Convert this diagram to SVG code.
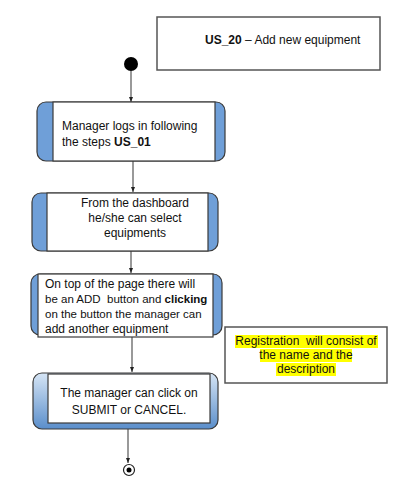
<svg xmlns="http://www.w3.org/2000/svg" width="411" height="492" viewBox="0 0 411 492">
<style>
text{font-family:"Liberation Sans",Arial,sans-serif;font-size:12px;fill:#111;white-space:pre}
.b{font-weight:bold}
.s{font-size:11.5px}
.outer{fill:#6f9fd8;stroke:#3a3a3a;stroke-width:1.2}
.inner{fill:#fff;stroke:#3a3a3a;stroke-width:1.2}
.box{fill:#fff;stroke:#555;stroke-width:1.5}
.conn{stroke:#555;stroke-width:1.2;fill:none;marker-end:url(#ah)}
.hl{fill:#ffff00}
</style>
<defs>
<marker id="ah" markerWidth="6" markerHeight="6" refX="5" refY="3" orient="auto" markerUnits="userSpaceOnUse">
<path d="M0,1 L5,3 L0,5 z" fill="#222"/>
</marker>
<linearGradient id="g4" x1="0" y1="0" x2="0" y2="1">
<stop offset="0" stop-color="#d6e5f5"/>
<stop offset="1" stop-color="#5a8ecb"/>
</linearGradient>
</defs>
<rect width="411" height="492" fill="#fff"/>
<g id="title">
<rect class="box" x="157" y="17" width="223" height="53"/>
<text x="205" y="44"><tspan class="b">US_20</tspan> – Add new equipment</text>
</g>
<g id="start">
<circle cx="131" cy="64" r="7" fill="#000"/>
</g>
<g id="connectors">
<line class="conn" x1="131" y1="71" x2="131" y2="102"/>
<line class="conn" x1="133" y1="161" x2="133" y2="192"/>
<line class="conn" x1="131" y1="251" x2="131" y2="273"/>
<line class="conn" x1="132" y1="337" x2="132" y2="372"/>
<line class="conn" x1="128" y1="429" x2="128" y2="463"/>
</g>
<g id="node1">
<rect class="outer" x="37" y="102" width="188" height="59" rx="9"/>
<rect class="inner" x="53" y="102" width="162" height="59"/>
<text x="62" y="130">Manager logs in following</text>
<text x="62" y="146">the steps <tspan class="b">US_01</tspan></text>
</g>
<g id="node2">
<rect class="outer" x="32" y="193" width="186" height="58" rx="9"/>
<rect class="inner" x="47" y="193" width="161" height="58"/>
<text x="135" y="207" text-anchor="middle">From the dashboard</text>
<text x="135" y="222" text-anchor="middle">he/she can select</text>
<text x="135" y="237" text-anchor="middle">equipments</text>
</g>
<g id="node3">
<rect class="outer" x="31" y="274" width="191" height="61" rx="9"/>
<rect class="inner" x="38" y="274" width="175" height="63"/>
<text x="45" y="288">On top of the page there will</text>
<text class="s" x="45" y="303">be an ADD  button and <tspan class="b">clicking</tspan></text>
<text class="s" x="45" y="318">on the button the manager can</text>
<text x="45" y="333">add another equipment</text>
</g>
<g id="note">
<rect class="box" x="225" y="327" width="162" height="56"/>
<rect class="hl" x="235" y="335" width="143" height="13"/>
<rect class="hl" x="260" y="349" width="92" height="13"/>
<rect class="hl" x="276" y="363" width="60" height="13"/>
<text x="306" y="345" text-anchor="middle">Registration  will consist of</text>
<text x="306" y="359" text-anchor="middle">the name and the</text>
<text x="306" y="373" text-anchor="middle">description</text>
</g>
<g id="node4">
<rect x="33" y="373" width="185" height="56" rx="9" fill="url(#g4)" stroke="#3a3a3a" stroke-width="1.2"/>
<rect class="inner" x="48" y="374" width="162" height="49"/>
<text x="129" y="397" text-anchor="middle">The manager can click on</text>
<text x="129" y="414" text-anchor="middle">SUBMIT or CANCEL.</text>
</g>
<g id="end">
<circle cx="129" cy="470" r="5.5" fill="#fff" stroke="#222" stroke-width="1.2"/>
<circle cx="129" cy="470" r="2.5" fill="#000"/>
</g>
</svg>
